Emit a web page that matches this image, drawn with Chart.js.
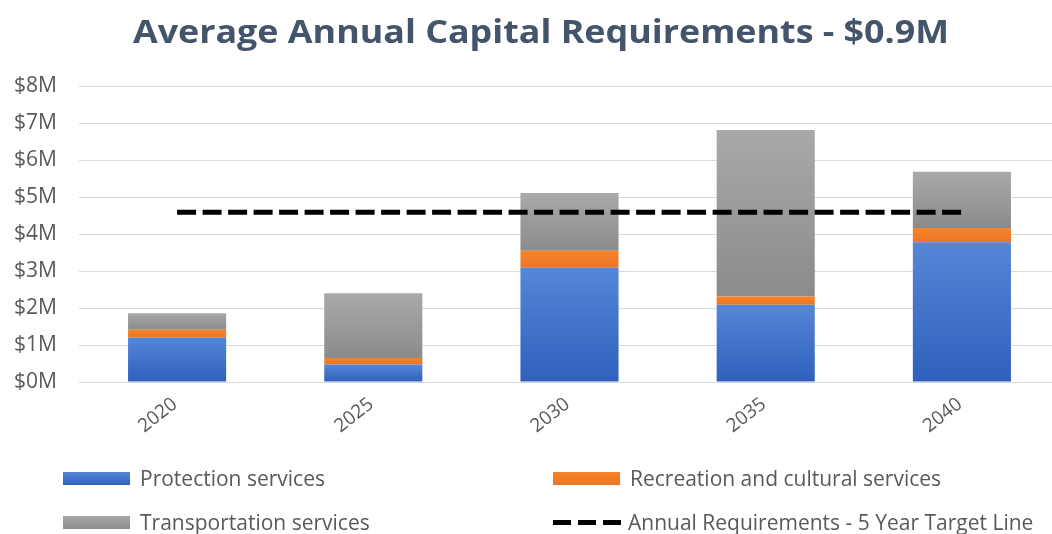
<!DOCTYPE html>
<html>
<head>
<meta charset="utf-8">
<script src="https://cdn.jsdelivr.net/npm/chart.js@4/dist/chart.umd.min.js"></script>
<style>
  html, body { margin: 0; padding: 0; background: #fff; width: 1052px; height: 534px; overflow: hidden; }
  #wrap { position: relative; width: 1060px; height: 534px; }
  #title {
    position: absolute; left: 0; top: 9px; width: 1082px; text-align: center;
    font: bold 32px "Open Sans", sans-serif; color: #44546a; white-space: nowrap;
    transform: scaleX(1.12); transform-origin: 541px 0;
  }
  #legend {
    position: absolute; left: 63px; top: 462px;
    display: grid; grid-template-columns: 490px 490px; grid-auto-rows: 44px;
    font: 21px "Open Sans", sans-serif; color: #595959;
  }
  .item { display: flex; align-items: center; height: 32px; white-space: nowrap; }
  .swatch { width: 67px; height: 13px; margin-right: 10px; }
  .dash {
    width: 68px; height: 5px; margin-right: 7px;
    background: repeating-linear-gradient(90deg, #000 0 18px, transparent 18px 25px);
  }
</style>
</head>
<body>
<div id="wrap">
  <canvas id="chart"></canvas>
  <div id="title">Average Annual Capital Requirements - $0.9M</div>
  <div id="legend"></div>
</div>
<script>
// Capital requirements by service area, in $ millions
const years = ['2020', '2025', '2030', '2035', '2040'];
const protection = [1.2, 0.47, 3.09, 2.09, 3.78];
const recreation = [0.21, 0.18, 0.46, 0.22, 0.38];
const transportation = [0.45, 1.75, 1.56, 4.5, 1.52];
const targetLine = [4.59, 4.59, 4.59, 4.59, 4.59];
const yTickValues = [0, 1, 2, 3, 4, 5, 6, 7, 8];

const seriesNames = {
  protection: 'Protection services',
  recreation: 'Recreation and cultural services',
  transportation: 'Transportation services',
  target: 'Annual Requirements - 5 Year Target Line'
};

const palette = {
  protection: ['#5686d6', '#2f60bd'],
  recreation: ['#f7832a', '#ea7525'],
  transportation: ['#a9a9a9', '#8b8b8b']
};

// Each stacked segment gets its own vertical gradient, lighter at the top
function segmentFill(colors) {
  return (ctx) => {
    const chart = ctx.chart;
    if (!chart.chartArea || ctx.type !== 'data') return colors[1];
    const y = chart.scales.y;
    let base = 0;
    for (let k = 0; k < ctx.datasetIndex; k++) {
      const ds = chart.data.datasets[k];
      if (ds.stack === 'services') base += ds.data[ctx.dataIndex];
    }
    const value = chart.data.datasets[ctx.datasetIndex].data[ctx.dataIndex];
    const top = y.getPixelForValue(base + value);
    const bottom = y.getPixelForValue(base);
    const g = chart.ctx.createLinearGradient(0, top, 0, bottom);
    g.addColorStop(0, colors[0]);
    g.addColorStop(1, colors[1]);
    return g;
  };
}

const barCommon = { type: 'bar', stack: 'services', order: 1, barPercentage: 0.5, categoryPercentage: 1, borderWidth: 0 };

const chart = new Chart(document.getElementById('chart'), {
  data: {
    labels: years,
    datasets: [
      { ...barCommon, label: seriesNames.protection, data: protection, backgroundColor: segmentFill(palette.protection) },
      { ...barCommon, label: seriesNames.recreation, data: recreation, backgroundColor: segmentFill(palette.recreation) },
      { ...barCommon, label: seriesNames.transportation, data: transportation, backgroundColor: segmentFill(palette.transportation) },
      {
        type: 'line', stack: 'target', order: 0, label: seriesNames.target, data: targetLine,
        borderColor: '#000', borderWidth: 5, borderDash: [19, 6.5], borderCapStyle: 'butt',
        pointRadius: 0, fill: false, tension: 0
      }
    ]
  },
  options: {
    responsive: true,
    maintainAspectRatio: false,
    animation: false,
    layout: { padding: { top: 86, right: 0, bottom: 0, left: 0 } },
    plugins: { legend: { display: false }, title: { display: false }, tooltip: { enabled: false } },
    scales: {
      x: {
        stacked: true,
        grid: { display: false, drawTicks: false },
        border: { display: false },
        ticks: { color: '#595959', font: { family: 'Open Sans', size: 19 }, minRotation: 38, maxRotation: 38, padding: 11, labelOffset: -2 },
        afterFit: (scale) => { scale.height = 152; }
      },
      y: {
        stacked: true,
        min: 0,
        max: 8,
        afterBuildTicks: (scale) => { scale.ticks = yTickValues.map(v => ({ value: v })); },
        grid: { color: '#d9d9d9', lineWidth: 1, drawTicks: false },
        border: { display: false },
        ticks: { color: '#595959', font: { family: 'Open Sans', size: 21 }, padding: 22, callback: (v) => '$' + v + 'M' },
        afterFit: (scale) => { scale.width = 79; }
      }
    }
  }
});

// Legend built from the chart's own datasets, two columns
const legend = document.getElementById('legend');
chart.data.datasets.forEach((ds) => {
  const item = document.createElement('div');
  item.className = 'item';
  const sw = document.createElement('span');
  if (ds.type === 'line') {
    sw.className = 'dash';
  } else {
    const key = Object.keys(seriesNames).find(k => seriesNames[k] === ds.label);
    sw.className = 'swatch';
    sw.style.background = `linear-gradient(${palette[key][0]}, ${palette[key][1]})`;
  }
  const txt = document.createElement('span');
  txt.textContent = ds.label;
  item.appendChild(sw);
  item.appendChild(txt);
  legend.appendChild(item);
});
</script>
</body>
</html>
